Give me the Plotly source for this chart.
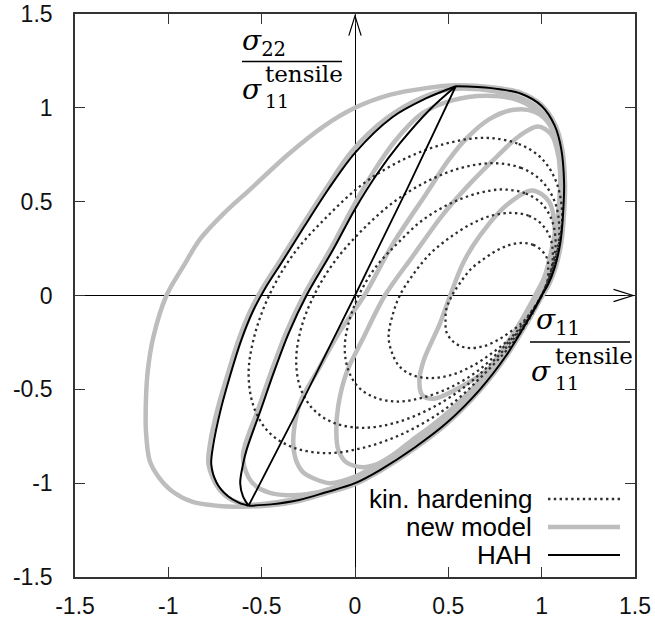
import plotly.graph_objects as go

# ---------------- data ----------------
tick_vals = [-1.5, -1, -0.5, 0, 0.5, 1, 1.5]
tick_text = ["-1.5", "-1", "-0.5", "0", "0.5", "1", "1.5"]

# HAH (black) - common right / bottom boundary, from top vertex to bottom vertex
hah_right_x = [0.54, 0.73, 0.89, 1.0, 1.07, 1.105, 1.12, 1.115, 1.1, 1.07, 1.035, 1.0, 0.918, 0.81, 0.67, 0.49, 0.32, 0.134, 0.0, -0.16, -0.3, -0.45, -0.57]
hah_right_y = [1.115, 1.105, 1.075, 1.01, 0.905, 0.78, 0.6, 0.44, 0.28, 0.15, 0.06, 0.0, -0.146, -0.32, -0.5, -0.68, -0.81, -0.93, -1.0, -1.05, -1.09, -1.113, -1.12]
# HAH left branches (bottom vertex -> top vertex)
hah_a_x = [-0.57, -0.62, -0.68, -0.74, -0.77, -0.76, -0.72, -0.67, -0.61, -0.545, -0.48, -0.39, -0.27, -0.14, 0.0, 0.2, 0.38, 0.54]
hah_a_y = [-1.12, -1.105, -1.07, -1.0, -0.9, -0.8, -0.61, -0.43, -0.24, -0.08, 0.04, 0.18, 0.37, 0.57, 0.76, 0.95, 1.05, 1.115]
hah_b_x = [-0.57, -0.6, -0.615, -0.6, -0.58, -0.505, -0.435, -0.355, -0.26, -0.117, 0.0, 0.12, 0.24, 0.4, 0.54]
hah_b_y = [-1.12, -1.07, -1.0, -0.9, -0.82, -0.61, -0.41, -0.2, 0.0, 0.245, 0.46, 0.65, 0.81, 0.99, 1.115]
hah_c_x = [-0.57, -0.28, 0.0, 0.28, 0.54]
hah_c_y = [-1.12, -0.56, 0.0, 0.57, 1.115]

# new model (grey)
g1_x = [-1.12, -1.11, -1.08, -1.01, -0.92, -0.83, -0.7, -0.56, -0.36, -0.17, 0.0, 0.19, 0.38, 0.54, 0.73, 0.89, 1.0, 1.075, 1.11, 1.125, 1.12, 1.105, 1.075, 1.04, 1.005, 0.92, 0.81, 0.67, 0.49, 0.32, 0.134, 0.0, -0.16, -0.3, -0.45, -0.6, -0.74, -0.87, -0.97, -1.05, -1.1, -1.12, -1.12]
g1_y = [-0.56, -0.4, -0.22, 0.0, 0.155, 0.3, 0.44, 0.567, 0.75, 0.9, 1.0, 1.07, 1.105, 1.12, 1.11, 1.08, 1.015, 0.905, 0.78, 0.6, 0.44, 0.28, 0.15, 0.06, 0.0, -0.15, -0.325, -0.505, -0.685, -0.815, -0.935, -1.005, -1.055, -1.095, -1.118, -1.125, -1.12, -1.1, -1.05, -0.97, -0.88, -0.72, -0.56]
ga_x = [-0.785, -0.775, -0.735, -0.685, -0.625, -0.56, -0.495, -0.405, -0.285, -0.155, -0.02, 0.17, 0.36, 0.52, 0.7, 0.87, 0.98, 1.055, 1.09, 1.105, 1.1, 1.085, 1.055, 1.02, 0.985, 0.905, 0.795, 0.655, 0.475, 0.31, 0.13, 0.0, -0.16, -0.3, -0.45, -0.58, -0.66, -0.73, -0.785]
ga_y = [-0.9, -0.78, -0.6, -0.43, -0.24, -0.08, 0.04, 0.18, 0.37, 0.57, 0.765, 0.945, 1.055, 1.1, 1.095, 1.06, 1.0, 0.9, 0.78, 0.6, 0.44, 0.28, 0.15, 0.06, 0.0, -0.145, -0.32, -0.5, -0.675, -0.8, -0.92, -0.99, -1.04, -1.08, -1.105, -1.115, -1.09, -1.03, -0.9]
gb_x = [-0.6, -0.52, -0.45, -0.37, -0.275, -0.13, -0.015, 0.1, 0.22, 0.36, 0.52, 0.7, 0.86, 0.98, 1.06, 1.095, 1.1, 1.09, 1.065, 1.03, 0.975, 0.9, 0.79, 0.65, 0.47, 0.305, 0.13, 0.0, -0.134, -0.25, -0.365, -0.46, -0.526, -0.57, -0.6]
gb_y = [-0.85, -0.61, -0.41, -0.2, 0.0, 0.25, 0.465, 0.66, 0.83, 0.97, 1.04, 1.065, 1.045, 0.98, 0.88, 0.74, 0.58, 0.42, 0.25, 0.11, 0.0, -0.14, -0.315, -0.495, -0.67, -0.79, -0.905, -0.975, -1.03, -1.058, -1.064, -1.05, -1.02, -0.97, -0.85]
gc_x = [-0.33, -0.325, -0.29, -0.2, -0.08, 0.05, 0.2, 0.38, 0.5, 0.6, 0.72, 0.85, 0.96, 1.045, 1.09, 1.1, 1.09, 1.06, 1.02, 0.97, 0.895, 0.785, 0.645, 0.465, 0.3, 0.13, 0.0, -0.134, -0.22, -0.28, -0.315, -0.33]
gc_y = [-0.8, -0.7, -0.56, -0.4, -0.19, 0.0, 0.27, 0.54, 0.72, 0.84, 0.94, 0.99, 0.98, 0.91, 0.77, 0.6, 0.42, 0.25, 0.1, 0.0, -0.14, -0.31, -0.49, -0.665, -0.785, -0.895, -0.965, -1.0, -0.975, -0.94, -0.88, -0.8]
g4_x = [-0.1, -0.09, -0.045, 0.04, 0.16, 0.31, 0.47, 0.62, 0.76, 0.88, 0.98, 1.05, 1.09, 1.1, 1.085, 1.055, 1.015, 0.965, 0.89, 0.78, 0.64, 0.46, 0.3, 0.15, 0.045, -0.045, -0.09, -0.1]
g4_y = [-0.73, -0.59, -0.41, -0.235, 0.0, 0.21, 0.43, 0.6, 0.74, 0.85, 0.9, 0.86, 0.74, 0.58, 0.42, 0.25, 0.1, 0.0, -0.135, -0.305, -0.485, -0.655, -0.775, -0.885, -0.915, -0.89, -0.82, -0.73]
g5_x = [0.95, 1.04, 1.07, 1.055, 1.0, 0.9, 0.76, 0.58, 0.42, 0.36, 0.345, 0.37, 0.455, 0.51, 0.58, 0.67, 0.81, 0.95]
g5_y = [0.56, 0.5, 0.35, 0.17, 0.0, -0.16, -0.355, -0.48, -0.55, -0.53, -0.45, -0.34, -0.15, 0.0, 0.175, 0.32, 0.48, 0.56]

# kinematic hardening (dotted)
d1_x = [1.0, 0.87, 0.69, 0.49, 0.27, 0.05, -0.15, -0.33, -0.46, -0.54, -0.57, -0.54, -0.46, -0.33, -0.15, 0.05, 0.27, 0.49, 0.69, 0.87, 1.0, 1.08, 1.11, 1.08, 1.0]
d1_y = [0.73, 0.81, 0.84, 0.81, 0.73, 0.6, 0.42, 0.22, 0.0, -0.22, -0.42, -0.6, -0.73, -0.81, -0.84, -0.81, -0.73, -0.6, -0.42, -0.22, 0.0, 0.22, 0.42, 0.6, 0.73]
d2_x = [1.0, 0.89, 0.74, 0.57, 0.39, 0.21, 0.04, -0.11, -0.22, -0.29, -0.315, -0.29, -0.22, -0.11, 0.04, 0.21, 0.39, 0.57, 0.74, 0.89, 1.0, 1.07, 1.095, 1.07, 1.0]
d2_y = [0.61, 0.68, 0.705, 0.68, 0.61, 0.5, 0.35, 0.18, 0.0, -0.18, -0.35, -0.5, -0.61, -0.68, -0.705, -0.68, -0.61, -0.5, -0.35, -0.18, 0.0, 0.18, 0.35, 0.5, 0.61]
d3_x = [1.0, 0.91, 0.79, 0.66, 0.51, 0.36, 0.23, 0.11, 0.02, -0.035, -0.055, -0.035, 0.02, 0.11, 0.23, 0.36, 0.51, 0.66, 0.79, 0.91, 1.0, 1.055, 1.075, 1.055, 1.0]
d3_y = [0.49, 0.545, 0.565, 0.545, 0.49, 0.4, 0.28, 0.15, 0.0, -0.15, -0.28, -0.4, -0.49, -0.545, -0.565, -0.545, -0.49, -0.4, -0.28, -0.15, 0.0, 0.15, 0.28, 0.4, 0.49]
d4_x = [1.0, 0.93, 0.84, 0.73, 0.62, 0.51, 0.4, 0.31, 0.24, 0.2, 0.18, 0.2, 0.24, 0.31, 0.4, 0.51, 0.62, 0.73, 0.84, 0.93, 1.0, 1.045, 1.06, 1.045, 1.0]
d4_y = [0.38, 0.425, 0.44, 0.425, 0.38, 0.31, 0.22, 0.11, 0.0, -0.11, -0.22, -0.31, -0.38, -0.425, -0.44, -0.425, -0.38, -0.31, -0.22, -0.11, 0.0, 0.11, 0.22, 0.31, 0.38]
d5_x = [1.0, 0.955, 0.9, 0.83, 0.76, 0.69, 0.62, 0.565, 0.52, 0.49, 0.485, 0.49, 0.52, 0.565, 0.62, 0.69, 0.76, 0.83, 0.9, 0.955, 1.0, 1.03, 1.035, 1.03, 1.0]
d5_y = [0.24, 0.27, 0.28, 0.27, 0.24, 0.195, 0.14, 0.07, 0.0, -0.07, -0.14, -0.195, -0.24, -0.27, -0.28, -0.27, -0.24, -0.195, -0.14, -0.07, 0.0, 0.07, 0.14, 0.195, 0.24]

legend_labels = ["kin. hardening", "new model", "HAH"]

# ---------------- styles ----------------
GREY = "#bdbdbd"
DOT = "#2e2e2e"
BLACK = "#000000"
DOT_DASH = "2.4px,3.4px"
grey_line = dict(color=GREY, width=4.5, shape="spline", smoothing=0.9)
dot_line = dict(color=DOT, width=2.3, dash=DOT_DASH, shape="spline", smoothing=1.0)
black_line = dict(color=BLACK, width=2, shape="spline", smoothing=0.9)

fig = go.Figure()
for xs, ys in [(g1_x, g1_y), (ga_x, ga_y), (gb_x, gb_y), (gc_x, gc_y), (g4_x, g4_y), (g5_x, g5_y)]:
    fig.add_trace(go.Scatter(x=xs, y=ys, mode="lines", line=grey_line, hoverinfo="skip",
                             showlegend=False, legendgroup="new"))
for xs, ys in [(d1_x, d1_y), (d2_x, d2_y), (d3_x, d3_y), (d4_x, d4_y), (d5_x, d5_y)]:
    fig.add_trace(go.Scatter(x=xs, y=ys, mode="lines", line=dot_line, hoverinfo="skip",
                             showlegend=False, legendgroup="kin"))
for xs, ys in [(hah_right_x, hah_right_y), (hah_a_x, hah_a_y), (hah_b_x, hah_b_y)]:
    fig.add_trace(go.Scatter(x=xs, y=ys, mode="lines", line=black_line, hoverinfo="skip",
                             showlegend=False, legendgroup="hah"))
fig.add_trace(go.Scatter(x=hah_c_x, y=hah_c_y, mode="lines", line=dict(color=BLACK, width=1.8),
                         hoverinfo="skip", showlegend=False, legendgroup="hah"))

# ---------------- layout ----------------
L, R, T, B = 75, 20, 14, 44
W, H = 655, 621
pw, ph = W - L - R, H - T - B


def px_x(px):
    return (px - L) / pw


def px_y(py):
    return (H - B - py) / ph


axis_common = dict(
    range=[-1.5, 1.5], tickvals=tick_vals, ticktext=tick_text,
    ticks="inside", ticklen=10, tickwidth=1.2, tickcolor="#333",
    showline=True, linecolor="#333", linewidth=1.6, mirror="ticks",
    showgrid=False, zeroline=True, zerolinecolor="black", zerolinewidth=1.2,
    tickfont=dict(family="Liberation Sans, Arial, sans-serif", size=23, color="#111"),
    automargin=False,
)
fig.update_layout(
    width=W, height=H, margin=dict(l=L, r=R, t=T, b=B),
    paper_bgcolor="white", plot_bgcolor="white", showlegend=False,
    xaxis=dict(axis_common, ticklabelstandoff=8),
    yaxis=dict(axis_common, ticklabelstandoff=16),
)

shapes = []
# arrow heads on the origin axes
shapes.append(dict(type="path", xref="x", yref="y", path="M 1.385,0.033 L 1.49,0 L 1.385,-0.033",
                   line=dict(color="black", width=1.2)))
shapes.append(dict(type="path", xref="x", yref="y", path="M -0.033,1.385 L 0,1.49 L 0.033,1.385",
                   line=dict(color="black", width=1.2)))
# fraction bars
shapes.append(dict(type="line", xref="paper", yref="paper", x0=px_x(242), x1=px_x(342),
                   y0=px_y(61.5), y1=px_y(61.5), line=dict(color="black", width=1.5)))
shapes.append(dict(type="line", xref="paper", yref="paper", x0=px_x(530), x1=px_x(630),
                   y0=px_y(342), y1=px_y(342), line=dict(color="black", width=1.5)))
# legend samples
leg_rows = [499, 527, 555]
leg_styles = [dict(color=DOT, width=2.3, dash=DOT_DASH), dict(color=GREY, width=4.5), dict(color=BLACK, width=2)]
for row, st in zip(leg_rows, leg_styles):
    shapes.append(dict(type="line", xref="paper", yref="paper", x0=px_x(548), x1=px_x(620),
                       y0=px_y(row), y1=px_y(row), line=st))
fig.update_layout(shapes=shapes)

SERIF = "DejaVu Serif, Liberation Serif, serif"
SANS = "Liberation Sans, Arial, sans-serif"
anns = []


def txt(text, px, py, size, anchor="left", family=SERIF):
    anns.append(dict(text=text, xref="paper", yref="paper", x=px_x(px), y=px_y(py),
                     xanchor=anchor, yanchor="middle", showarrow=False, align="left",
                     borderpad=0, font=dict(family=family, size=size, color="black")))


SUPSUB = "<span style='font-size:23px'>tensile</span><br><span style='font-size:19px'>11</span>"
# y label
txt("<i>σ</i><sub>22</sub>", 241, 42, 28)
txt("<i>σ</i>", 241, 90, 28)
txt(SUPSUB, 264, 87, 20)
# x label
txt("<i>σ</i><sub>11</sub>", 535, 322, 28)
txt("<i>σ</i>", 530, 371, 28)
txt(SUPSUB, 554, 368, 20)
# legend text
for lab, row in zip(legend_labels, leg_rows):
    txt(lab, 533, row, 26, anchor="right", family=SANS)
fig.update_layout(annotations=anns)

fig.write_html("out.html", config={"displayModeBar": False},
               post_script="document.body.style.margin='0px';")
